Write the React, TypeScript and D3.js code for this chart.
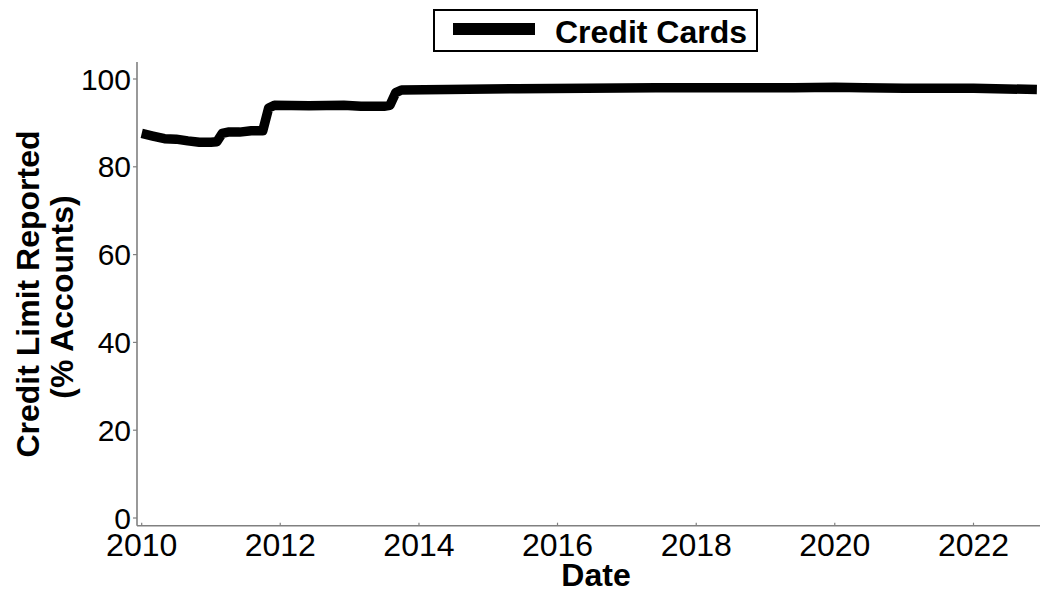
import React from 'react';
import * as d3 from 'd3';

const dates = [
  "2010-01", "2010-03", "2010-05", "2010-07", "2010-09", "2010-11",
  "2011-01", "2011-02", "2011-03", "2011-04", "2011-06", "2011-08", "2011-10", "2011-11", "2011-12",
  "2012-06", "2012-12", "2013-03", "2013-07", "2013-08", "2013-09", "2013-10",
  "2014-06", "2015-06", "2016-06", "2017-06", "2018-06", "2019-06", "2020-01", "2020-06",
  "2021-01", "2022-01", "2022-12",
];
const values = [
  87.6, 87.0, 86.4, 86.3, 85.9, 85.6,
  85.6, 85.7, 87.6, 87.9, 87.9, 88.2, 88.2, 93.4, 94.0,
  93.9, 94.0, 93.8, 93.8, 94.0, 96.9, 97.5,
  97.6, 97.8, 97.9, 98.0, 98.0, 98.0, 98.1, 98.0,
  97.9, 97.9, 97.6,
];
const yTicks = [0, 20, 40, 60, 80, 100];
const xTickYears = [2010, 2012, 2014, 2016, 2018, 2020, 2022];
const seriesName = "Credit Cards";
const xTitle = "Date";
const yTitle = ["Credit Limit Reported", "(% Accounts)"];

const FONT = "'Liberation Sans', Arial, Helvetica, sans-serif";
const AXIS = "#808080";

export default function App() {
  const parse = d3.timeParse("%Y-%m");
  const data = dates.map((d, i) => ({ date: parse(d) as Date, value: values[i] }));

  const left = 137, right = 1040, top = 62, bottom = 525.7;
  const xBase = d3.scaleTime()
    .domain([new Date(2010, 0, 1), new Date(2022, 0, 1)])
    .range([141.7, 973.5]);
  const x = d3.scaleTime().domain([xBase.invert(left), xBase.invert(right)]).range([left, right]);
  const yBase = d3.scaleLinear().domain([0, 100]).range([518, 79]);
  const y = d3.scaleLinear().domain([yBase.invert(bottom), yBase.invert(top)]).range([bottom, top]);

  const line = d3.line<{ date: Date; value: number }>()
    .x(d => x(d.date))
    .y(d => y(d.value));

  return (
    <svg width={1040} height={590} style={{ position: 'absolute', left: 0, top: 0, background: '#fff' }}>
      {/* y axis */}
      <line x1={left} x2={left} y1={top} y2={bottom} stroke={AXIS} strokeWidth={1.6} />
      {yTicks.map(t => (
        <g key={t}>
          <line x1={left - 4} x2={left} y1={y(t)} y2={y(t)} stroke={AXIS} strokeWidth={1.2} />
          <text x={left - 6} y={y(t)} textAnchor="end" dominantBaseline="central"
            fontFamily={FONT} fontSize={30} fill="#000">{t}</text>
        </g>
      ))}
      {/* x axis */}
      <line x1={left} x2={right} y1={bottom} y2={bottom} stroke={AXIS} strokeWidth={1.6} />
      {xTickYears.map(yr => {
        const xp = x(new Date(yr, 0, 1));
        return (
          <g key={yr}>
            <line x1={xp} x2={xp} y1={bottom - 3} y2={bottom} stroke={AXIS} strokeWidth={1.2} />
            <text x={xp} y={556} textAnchor="middle" fontFamily={FONT} fontSize={32} fill="#000">{yr}</text>
          </g>
        );
      })}
      {/* line */}
      <path d={line(data) || ''} fill="none" stroke="#000" strokeWidth={9.5} strokeLinejoin="round" strokeLinecap="butt" />
      {/* titles */}
      <text x={596} y={586} textAnchor="middle" fontFamily={FONT} fontSize={32} fontWeight="bold">{xTitle}</text>
      <text transform="translate(28,294) rotate(-90)" textAnchor="middle" dominantBaseline="central"
        fontFamily={FONT} fontSize={32} fontWeight="bold">{yTitle[0]}</text>
      <text transform="translate(62,297) rotate(-90)" textAnchor="middle" dominantBaseline="central"
        fontFamily={FONT} fontSize={32} fontWeight="bold">{yTitle[1]}</text>
      {/* legend */}
      <rect x={434} y={10} width={323} height={41} fill="#fff" stroke="#000" strokeWidth={2} />
      <rect x={453} y={23} width={82} height={12} fill="#000" />
      <text x={555} y={43} fontFamily={FONT} fontSize={32} fontWeight="bold">{seriesName}</text>
    </svg>
  );
}
